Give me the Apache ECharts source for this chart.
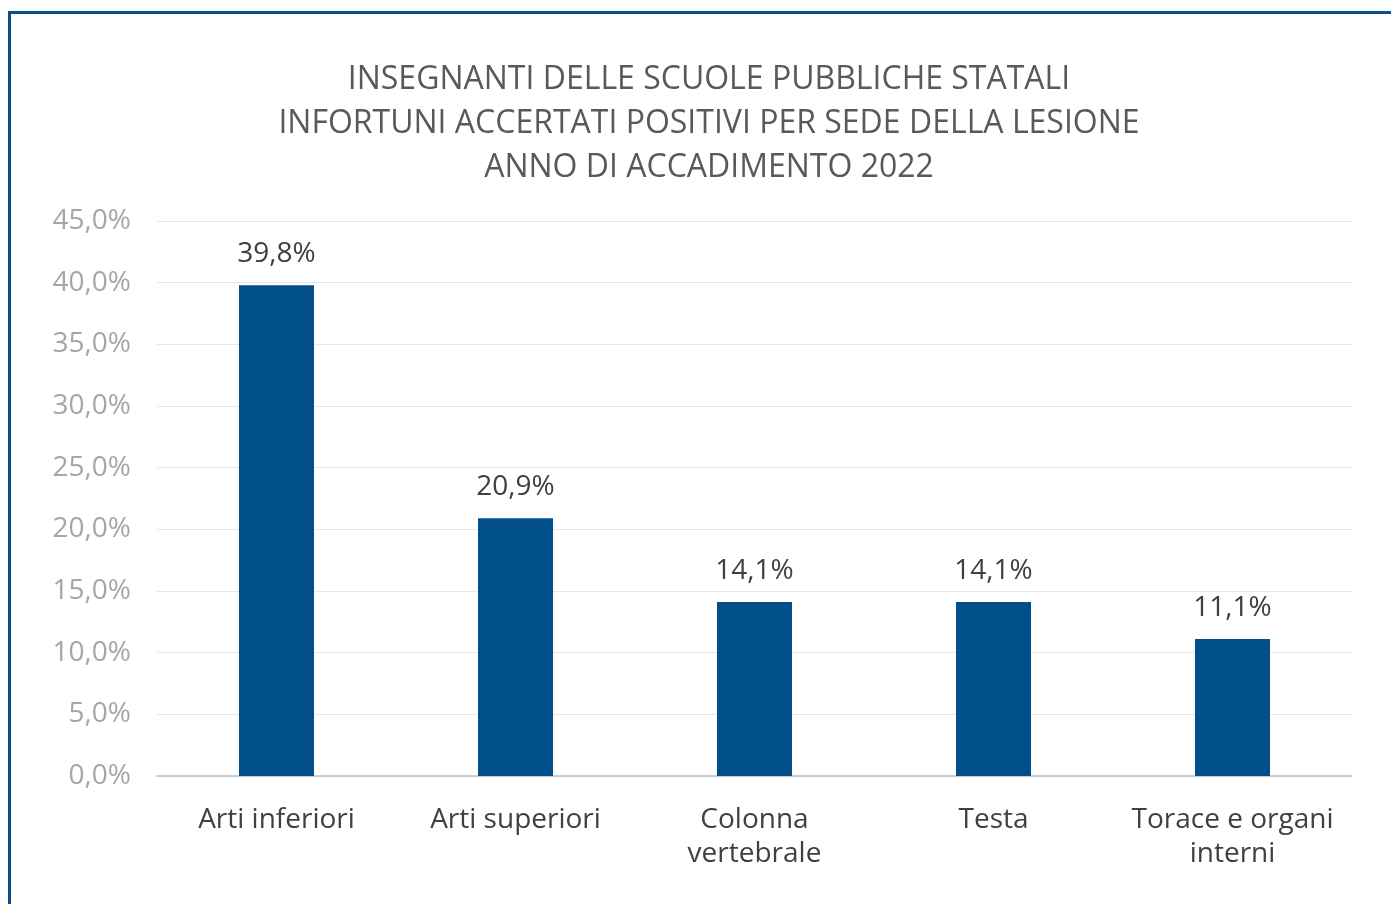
<!DOCTYPE html>
<html><head><meta charset="utf-8">
<script src="https://cdn.jsdelivr.net/npm/echarts@6/dist/echarts.min.js"></script>
<style>
html,body{margin:0;padding:0;background:#fff;overflow:hidden;}
#frame{position:absolute;left:8px;top:11px;width:1500px;height:1000px;border-left:3px solid #0b4f8a;border-top:3px solid #0b4f8a;box-sizing:border-box;}
#c{position:absolute;left:0;top:0;width:1391px;height:904px;}
</style></head>
<body>
<div id="frame"></div>
<div id="c"></div>
<script>
const titleLines = ['INSEGNANTI DELLE SCUOLE PUBBLICHE STATALI','INFORTUNI ACCERTATI POSITIVI PER SEDE DELLA LESIONE','ANNO DI ACCADIMENTO 2022'];
const categories = ['Arti inferiori','Arti superiori','Colonna\nvertebrale','Testa','Torace e organi\ninterni'];
const values = [39.8, 20.9, 14.1, 14.1, 11.1];
const yMin = 0, yMax = 45, yStep = 5;
const FONT = 'Open Sans';
const fmt = v => v.toFixed(1).replace('.', ',') + '%';
const chart = echarts.init(document.getElementById('c'));
chart.setOption({
  animation:false,
  title:{text:titleLines.join('\n'),left:704,top:53,textAlign:'center',
    textStyle:{fontFamily:FONT,fontSize:32,fontWeight:'normal',color:'#595959',lineHeight:44}},
  grid:{left:157,right:39,top:221,bottom:128,containLabel:false},
  xAxis:{type:'category',data:categories,
    axisLine:{lineStyle:{color:'#bfbfbf',width:1.5}},axisTick:{show:false},
    axisLabel:{fontFamily:FONT,fontSize:28,color:'#404040',margin:27,lineHeight:34,interval:0}},
  yAxis:{type:'value',min:yMin,max:yMax,interval:yStep,
    axisLine:{show:false},axisTick:{show:false},
    splitLine:{lineStyle:{color:'#e6e6e6',width:1}},
    axisLabel:{fontFamily:FONT,fontSize:28,color:'#a6a6a6',margin:26,formatter:v=>fmt(v)}},
  series:[{type:'bar',data:values,barWidth:75,itemStyle:{color:'#014f8a'},
    label:{show:true,position:'top',distance:17,fontFamily:FONT,fontSize:28,color:'#404040',formatter:p=>fmt(p.value)}}]
});
</script>
</body></html>
